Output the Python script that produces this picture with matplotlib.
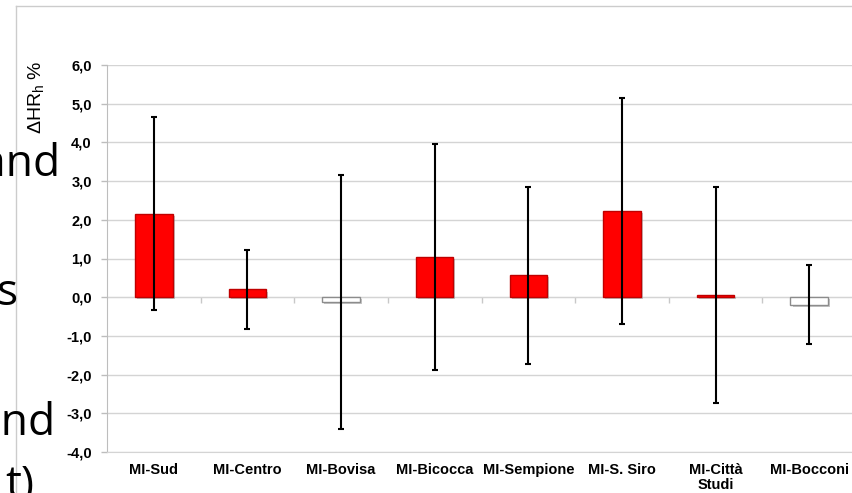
import matplotlib
matplotlib.use('Agg')
import matplotlib.pyplot as plt
import matplotlib.patheffects as pe
from matplotlib.lines import Line2D

# Stations and hourly HR change (%), with error half-widths
stations = ['MI-Sud', 'MI-Centro', 'MI-Bovisa', 'MI-Bicocca', 'MI-Sempione',
            'MI-S. Siro', 'MI-Città\nStudi', 'MI-Bocconi']
delta_hr = [2.16, 0.20, -0.12, 1.03, 0.57, 2.22, 0.06, -0.19]
err = [2.50, 1.01, 3.28, 2.92, 2.29, 2.92, 2.80, 1.02]
y_ticks = [-4, -3, -2, -1, 0, 1, 2, 3, 4, 5, 6]

plt.rcParams['font.family'] = ['Liberation Sans', 'DejaVu Sans']
plt.rcParams['mathtext.default'] = 'regular'

fig = plt.figure(figsize=(8.52, 4.93), dpi=100)
W, H = 852, 493

# plot area (right edge runs just past the image, as in the screenshot)
ax = fig.add_axes([107 / W, (H - 452) / H, 749 / W, 387 / H])

x = list(range(len(stations)))
face = ['#ff0000' if v >= 0 else 'white' for v in delta_hr]
edge = ['#c00000' if v >= 0 else '#8c8c8c' for v in delta_hr]
bars = ax.bar(x, delta_hr, width=0.4, color=face, edgecolor=edge, linewidth=1.0, zorder=3)
for b in bars:
    b.set_path_effects([pe.SimplePatchShadow(offset=(1.5, -1.5), shadow_rgbFace='#909090', alpha=0.5),
                        pe.Normal()])
ax.errorbar(x, delta_hr, yerr=err, fmt='none', ecolor='black', elinewidth=1.5,
            capsize=2, capthick=1.5, zorder=4)

ax.set_xlim(-0.5, len(stations) - 0.5)
ax.set_ylim(-4, 6)
ax.set_yticks(y_ticks)
ax.set_yticklabels([f'{v:.1f}'.replace('.', ',') for v in y_ticks], fontsize=10.5, fontweight='bold')
ax.set_xticks(x)
ax.set_xticklabels(stations, fontsize=10.5, fontweight='bold', linespacing=1.1)
ax.tick_params(axis='x', length=0, pad=8)
ax.tick_params(axis='y', length=4, color='#bdbdbd', width=1, pad=7)

ax.grid(axis='y', color='#d4d4d4', linewidth=1, zorder=0)
ax.set_axisbelow(True)
for s in ['top', 'right']:
    ax.spines[s].set_visible(False)
ax.spines['left'].set_color('#bdbdbd')
ax.spines['bottom'].set_color('#d4d4d4')

# category axis crosses at zero, with tick marks between categories
sec = ax.secondary_xaxis(0.4)
sec.set_xticks([i + 0.5 for i in x[:-1]])
sec.set_xticklabels([])
sec.tick_params(length=4, color='#c8c8c8', width=1, direction='out')
sec.spines['bottom'].set_color('#d4d4d4')

ax.set_ylabel('ΔHR$_h$ %', fontsize=14)
ax.yaxis.set_label_coords((46 - 107) / 749, (452 - 97) / 387)

# frame of the pasted chart image
fig.add_artist(Line2D([16 / W, 16 / W], [0, 1 - 6 / H], color='#cccccc', lw=1))
fig.add_artist(Line2D([16 / W, 1], [1 - 6 / H, 1 - 6 / H], color='#cccccc', lw=1))

# slide text showing behind the chart on the left
slide_font = dict(fontsize=32, family='Open Sans', ha='right', va='baseline', color='black')
fig.text(60 / W, 1 - 176 / H, 'and', **slide_font)
fig.text(18 / W, 1 - 305 / H, 's', **slide_font)
fig.text(55 / W, 1 - 435 / H, 'and', **slide_font)
fig.text(34 / W, 1 - 496 / H, 't)', **slide_font)

fig.savefig('out.png', dpi=100)
